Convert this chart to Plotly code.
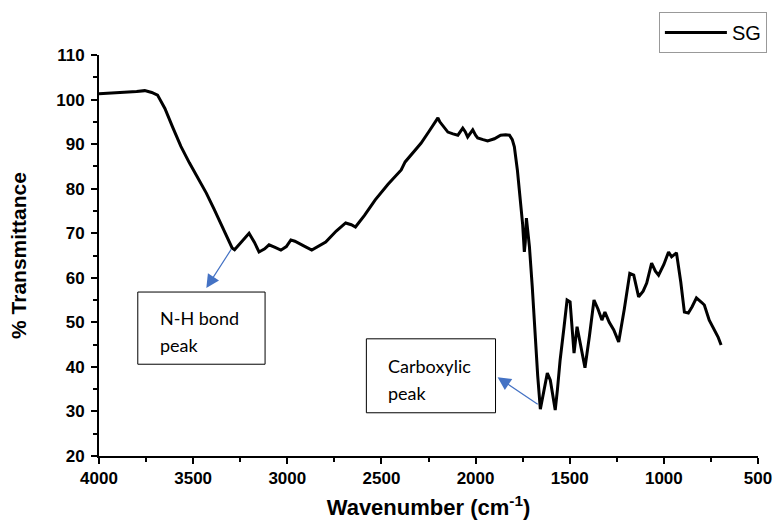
import plotly.graph_objects as go

# Wavenumber (cm-1) and % transmittance
wavenumber = [4000, 3950, 3900, 3850, 3800, 3757, 3720, 3689, 3650, 3609, 3565, 3520, 3475, 3430,
              3390, 3345, 3310, 3293, 3280, 3240, 3203, 3175, 3150, 3120, 3097, 3065, 3034,
              3005, 2981, 2960, 2939, 2905, 2870, 2835, 2796, 2740, 2690, 2660, 2638, 2590,
              2533, 2465, 2395, 2374, 2335, 2290, 2245, 2200, 2190, 2170, 2147, 2120, 2094,
              2068, 2055, 2042, 2028, 2015, 2000, 1989, 1960, 1936, 1900, 1867, 1840, 1820,
              1805, 1794, 1778, 1762, 1750, 1741, 1736, 1730, 1722, 1714, 1699, 1683, 1670,
              1656, 1640, 1619, 1603, 1590, 1577, 1565, 1551, 1530, 1514, 1498, 1487, 1477,
              1461, 1440, 1419, 1395, 1371, 1350, 1329, 1313, 1290, 1266, 1240, 1210, 1181,
              1160, 1134, 1110, 1091, 1065, 1045, 1028, 1000, 975, 959, 933, 910, 891, 870,
              850, 827, 800, 785, 759, 733, 712, 696]
transmittance = [101.3, 101.4, 101.6, 101.7, 101.8, 102.0, 101.6, 101.0, 98.0, 93.8, 89.5, 85.8, 82.5, 79.0,
                 75.5, 71.4, 68.5, 66.7, 66.3, 68.2, 70.0, 68.0, 65.8, 66.5, 67.4, 66.8, 66.2,
                 67.0, 68.5, 68.2, 67.8, 67.0, 66.2, 67.0, 68.0, 70.5, 72.3, 71.9, 71.4, 74.0,
                 77.5, 81.0, 84.2, 86.0, 88.0, 90.2, 93.0, 95.9, 95.0, 93.8, 92.7, 92.3, 92.0,
                 93.6, 92.8, 91.6, 92.6, 93.2, 92.0, 91.4, 91.0, 90.7, 91.2, 92.0, 92.1, 92.0,
                 91.0, 89.4, 84.2, 78.1, 72.0, 65.8, 68.0, 73.4, 70.0, 67.0, 58.0, 46.7, 38.0,
                 30.5, 34.0, 38.6, 37.0, 33.5, 30.3, 35.0, 41.5, 49.0, 55.0, 54.6, 48.0, 43.1,
                 49.0, 44.0, 39.8, 47.0, 55.0, 53.0, 50.5, 52.3, 50.0, 48.3, 45.6, 53.0, 61.0,
                 60.6, 55.7, 57.0, 58.8, 63.3, 61.5, 60.6, 63.0, 65.8, 64.7, 65.6, 59.0, 52.3, 52.1,
                 53.5, 55.5, 54.5, 53.9, 50.5, 48.3, 46.7, 44.9]

series_name = "SG"
x_ticks = [4000, 3500, 3000, 2500, 2000, 1500, 1000, 500]
y_ticks = [20, 30, 40, 50, 60, 70, 80, 90, 100, 110]

fig = go.Figure()
fig.add_trace(go.Scatter(
    x=wavenumber, y=transmittance, mode="lines", name=series_name,
    line=dict(color="black", width=3), showlegend=True,
))

ann_font = dict(family="Lato, 'Open Sans', sans-serif", size=18, color="black")
arrow_col = "#4472C4"

fig.update_layout(
    width=774, height=522,
    margin=dict(l=99, r=16, t=55, b=66, autoexpand=False),
    paper_bgcolor="white", plot_bgcolor="white",
    font=dict(family="'Liberation Sans', Arial, sans-serif", color="black"),
    legend=dict(x=1.0135, y=1.107, xanchor="right", yanchor="top",
                bordercolor="#999999", borderwidth=1,
                font=dict(size=20, family="'Liberation Sans', Arial, sans-serif"),
                itemwidth=62, tracegroupgap=0),
    xaxis=dict(range=[4000, 500], tickvals=x_ticks, showline=True, linecolor="black", linewidth=2,
               ticks="outside", ticklen=6, tickwidth=2, tickcolor="black",
               minor=dict(ticks="outside", dtick=250, ticklen=4, tickwidth=2, tickcolor="black"),
               showgrid=False, zeroline=False, automargin=False, ticklabeloverflow="allow",
               tickfont=dict(size=17, weight="bold"),
               title=dict(text="Wavenumber (cm<sup>-1</sup>)", font=dict(size=22, weight="bold"), standoff=12)),
    yaxis=dict(range=[20, 110], tickvals=y_ticks, showline=True, linecolor="black", linewidth=2,
               ticks="outside", ticklen=6, tickwidth=2, tickcolor="black",
               minor=dict(ticks="outside", dtick=5, ticklen=4, tickwidth=2, tickcolor="black"),
               showgrid=False, zeroline=False, ticklabelstandoff=3, automargin=False,
               ticklabeloverflow="allow",
               tickfont=dict(size=17, weight="bold"),
               title=dict(text="% Transmittance", font=dict(size=21, weight="bold"), standoff=24)),
)

# Annotation boxes
fig.add_shape(type="rect", xref="x", yref="y", x0=3794, x1=3118, y0=40.6, y1=56.8,
              line=dict(color="black", width=1), fillcolor="white", layer="above")
fig.add_shape(type="rect", xref="x", yref="y", x0=2580, x1=1894, y0=29.7, y1=46.3,
              line=dict(color="black", width=1), fillcolor="white", layer="above")

for txt, xx, yy in [("N-H bond", 3689, 51.0), ("peak", 3689, 44.9),
                    ("Carboxylic", 2474, 40.2), ("peak", 2474, 34.1)]:
    fig.add_annotation(x=xx, y=yy, xref="x", yref="y", text=txt, showarrow=False,
                       xanchor="left", yanchor="middle", font=ann_font)

# Arrows
for hx, hy, tx, ty in [(3430, 57.7, 3293, 66.7), (1883, 37.7, 1662, 31.4)]:
    fig.add_annotation(x=hx, y=hy, ax=tx, ay=ty, xref="x", yref="y", axref="x", ayref="y",
                       text="", showarrow=True, arrowhead=2, arrowsize=2.2, arrowwidth=1.2,
                       arrowcolor=arrow_col, standoff=0, startstandoff=0)

fig.write_html("out.html")
